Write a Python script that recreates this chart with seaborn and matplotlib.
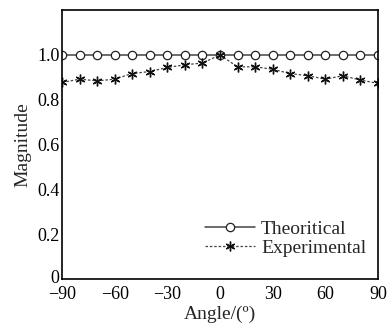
import numpy as np
import pandas as pd
import matplotlib
matplotlib.use("Agg")
import matplotlib.pyplot as plt
import matplotlib.transforms as mtransforms
import seaborn as sns

sns.set_theme(style="white")
plt.rcParams['font.family'] = ['Liberation Serif', 'DejaVu Serif']

# data
angles = [-90, -80, -70, -60, -50, -40, -30, -20, -10, 0,
          10, 20, 30, 40, 50, 60, 70, 80, 90]
theoretical = [1.0] * 19
experimental = [0.877, 0.892, 0.884, 0.892, 0.917, 0.926, 0.944, 0.956, 0.964, 1.0,
                0.947, 0.947, 0.936, 0.917, 0.907, 0.892, 0.907, 0.888, 0.873]
x_ticks = [-90, -60, -30, 0, 30, 60, 90]
y_ticks = [0, 0.2, 0.4, 0.6, 0.8, 1.0]
y_labels = ['0', '0.2', '0.4', '0.6', '0.8', '1.0']

df = pd.DataFrame({'Angle': angles, 'Theoritical': theoretical, 'Experimental': experimental})

fig = plt.figure(figsize=(3.88, 3.27), dpi=100)
ax = fig.add_axes([0.160, 0.147, 0.814, 0.822])

sns.lineplot(data=df, x='Angle', y='Theoritical', ax=ax, color='#444444', lw=1.1,
             marker='o', markersize=6, markerfacecolor='white', markeredgecolor='#222222',
             markeredgewidth=0.9, label='Theoritical')
sns.lineplot(data=df, x='Angle', y='Experimental', ax=ax, color='#444444', lw=0.9,
             linestyle=(0, (2, 1.5)), marker=(6, 2, 0), markersize=7,
             markeredgecolor='#111111', markeredgewidth=1.0, label='Experimental')

ax.set_xlim(-90, 90)
ax.set_ylim(0, 1.2)
ax.set_xticks(x_ticks)
ax.set_xticklabels([str(t).replace('-', '\u2212') for t in x_ticks])
ax.set_yticks(y_ticks)
ax.set_yticklabels(y_labels)
ax.tick_params(direction='in', length=4, width=1, labelsize=13, colors='black')
ax.tick_params(axis='x', pad=5)
ax.tick_params(axis='y', pad=2)
# nudge the "0" label up a little so it clears the "-90" below it
zero_lab = ax.get_yticklabels()[0]
zero_lab.set_transform(zero_lab.get_transform() +
                       mtransforms.ScaledTranslation(0, 2 / 72, fig.dpi_scale_trans))
ax.set_xlabel('Angle/(\u00ba)', fontsize=14, labelpad=2)
ax.set_ylabel('Magnitude', fontsize=14, labelpad=4)
for s in ax.spines.values():
    s.set_color('black')
    s.set_linewidth(1.2)

leg = ax.legend(loc='lower right', frameon=False, fontsize=14, handlelength=2.6,
                handletextpad=0.3, borderaxespad=0.2, labelspacing=0.05,
                bbox_to_anchor=(1.0, 0.04))

fig.savefig('out.png', dpi=100)
